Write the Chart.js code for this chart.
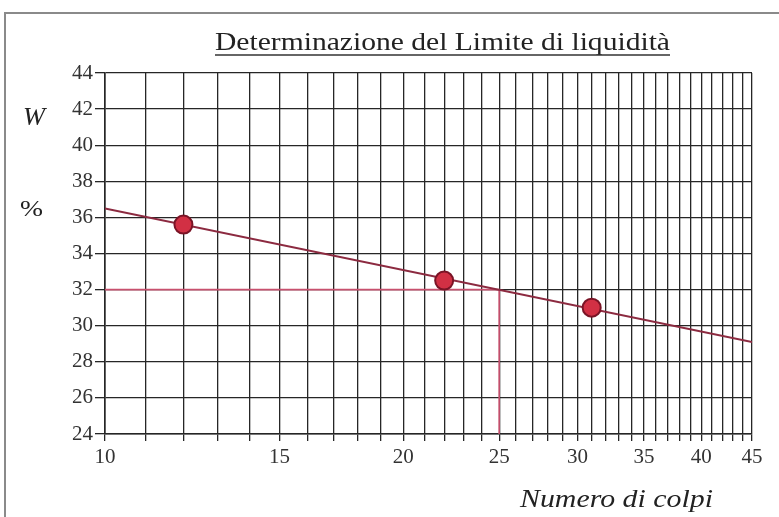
<!DOCTYPE html>
<html>
<head>
<meta charset="utf-8">
<script src="https://cdn.jsdelivr.net/npm/chart.js@4.4.0/dist/chart.umd.min.js"></script>
<style>
  html, body { margin: 0; padding: 0; background: #fff; }
  #wrap { width: 779px; height: 517px; position: relative; }
</style>
</head>
<body>
<div id="wrap"><canvas id="llChart" width="779" height="517"></canvas></div>
<script>
// measured points (blows vs water content %)
const blows = [12, 22, 31];
const water = [35.6, 32.5, 31.0];
// fitted line, read at the chart edges
const fitBlows = [10, 45];
const fitWater = [36.5, 29.1];
// construction line for W at 25 blows
const guideBlows = [10, 25, 25];
const guideWater = [32, 32, 24];
// grid / tick values
const xGridTicks = [10, 11, 12, 13, 14, 15, 16, 17, 18, 19, 20, 21, 22, 23, 24, 25, 26, 27,
  28, 29, 30, 31, 32, 33, 34, 35, 36, 37, 38, 39, 40, 41, 42, 43, 44, 45];
const xLabelTicks = [10, 15, 20, 25, 30, 35, 40, 45];
const yTicks = [24, 26, 28, 30, 32, 34, 36, 38, 40, 42, 44];

const titleText = 'Determinazione del Limite di liquidità';
const xTitle = 'Numero di colpi';
const serif = '"Liberation Serif", "DejaVu Serif", serif';

const toPts = (xs, ys) => xs.map((x, i) => ({ x: x, y: ys[i] }));

// draw text stretched horizontally to a given width
function fitText(ctx, text, left, baseline, width) {
  const w = ctx.measureText(text).width;
  ctx.save();
  ctx.translate(left, baseline);
  ctx.scale(width / w, 1);
  ctx.textAlign = 'left';
  ctx.fillText(text, 0, 0);
  ctx.restore();
}

// frame, title, axis captions
const decorPlugin = {
  id: 'decor',
  beforeDraw(chart) {
    const ctx = chart.ctx;
    ctx.save();
    ctx.strokeStyle = '#8a8a8a';
    ctx.lineWidth = 2;
    ctx.beginPath();
    ctx.moveTo(5, 517);
    ctx.lineTo(5, 13);
    ctx.lineTo(779, 13);
    ctx.stroke();
    ctx.restore();
  },
  afterDraw(chart) {
    const ctx = chart.ctx;
    ctx.save();
    ctx.fillStyle = '#222';
    ctx.textBaseline = 'alphabetic';

    ctx.font = '26px ' + serif;
    fitText(ctx, titleText, 215, 50, 455);
    ctx.strokeStyle = '#333';
    ctx.lineWidth = 1.4;
    ctx.beginPath();
    ctx.moveTo(215, 55);
    ctx.lineTo(670, 55);
    ctx.stroke();

    ctx.font = 'italic 25px ' + serif;
    fitText(ctx, 'W', 23, 125, 22);
    ctx.font = '23px ' + serif;
    fitText(ctx, '%', 20, 216, 23);

    ctx.font = 'italic 25px ' + serif;
    fitText(ctx, xTitle, 520, 507, 193);
    ctx.restore();
  }
};

new Chart(document.getElementById('llChart').getContext('2d'), {
  type: 'scatter',
  data: {
    datasets: [
      {
        label: 'Punti',
        data: toPts(blows, water),
        backgroundColor: '#d23044',
        borderColor: '#7a1426',
        borderWidth: 2,
        pointRadius: 9,
        order: 0
      },
      {
        label: 'Retta',
        type: 'line',
        data: toPts(fitBlows, fitWater),
        borderColor: '#8c2a40',
        borderWidth: 2,
        pointRadius: 0,
        fill: false,
        order: 1
      },
      {
        label: 'W25',
        type: 'line',
        data: toPts(guideBlows, guideWater),
        borderColor: '#c8506e',
        borderWidth: 1.6,
        pointRadius: 0,
        fill: false,
        order: 2
      }
    ]
  },
  options: {
    responsive: false,
    animation: false,
    layout: { padding: { top: 73, right: 27, left: 0, bottom: 0 } },
    plugins: {
      legend: { display: false },
      tooltip: { enabled: false },
      title: { display: false }
    },
    scales: {
      x: {
        type: 'logarithmic',
        min: 10,
        max: 45,
        afterBuildTicks(scale) {
          scale.ticks = xGridTicks.map(v => ({ value: v }));
        },
        afterFit(scale) { scale.height = 83; },
        grid: {
          color: '#262626',
          lineWidth: 1.3,
          tickLength: 7,
          tickColor: '#262626'
        },
        border: { color: '#262626', width: 1.6 },
        ticks: {
          autoSkip: false,
          maxRotation: 0,
          padding: 4,
          color: '#333',
          font: { family: serif, size: 21 },
          callback: (v) => xLabelTicks.includes(v) ? String(v) : ''
        }
      },
      y: {
        min: 24,
        max: 44,
        afterBuildTicks(scale) {
          scale.ticks = yTicks.map(v => ({ value: v }));
        },
        afterFit(scale) { scale.width = 105; },
        grid: {
          color: '#262626',
          lineWidth: 1.3,
          tickLength: 10,
          tickColor: '#262626'
        },
        border: { color: '#262626', width: 1.6 },
        ticks: {
          padding: 2,
          color: '#333',
          font: { family: serif, size: 21 }
        }
      }
    }
  },
  plugins: [decorPlugin]
});
</script>
</body>
</html>
